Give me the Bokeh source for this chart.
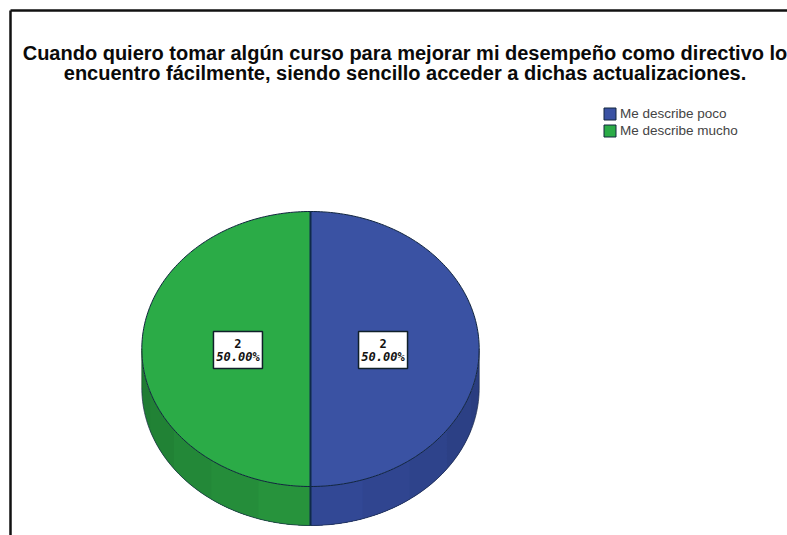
import numpy as np
from bokeh.embed import file_html
from bokeh.resources import INLINE
from bokeh.models import Range1d, Legend, LegendItem
from bokeh.plotting import figure
from bokeh.core.properties import value

title_lines = ["Cuando quiero tomar algún curso para mejorar mi desempeño como directivo lo",
               "encuentro fácilmente, siendo sencillo acceder a dichas actualizaciones."]
categories = ["Me describe poco", "Me describe mucho"]
counts = [2, 2]
percent_labels = ["50.00%", "50.00%"]

top_colors = ["#3A52A3", "#2BAB47"]
side_near = [(52, 74, 152), (40, 150, 62)]
side_far = [(41, 60, 126), (30, 122, 50)]

W, H = 787, 535
cx, cy, rx, ry, depth = 310, 348.5, 168.7, 137.5, 39

p = figure(width=W, height=H, output_backend="svg", toolbar_location=None,
           x_range=Range1d(0, W), y_range=Range1d(H, 0), min_border=0,
           outline_line_color=None, background_fill_color="white", border_fill_color="white",
           styles={"position": "absolute", "left": "0px", "top": "0px"})
p.axis.visible = False
p.grid.visible = False

# frame
p.line([10, 10], [H, 10], line_color="#111111", line_width=2.5)
p.line([10, W], [10, 10], line_color="#111111", line_width=2.5)

total = sum(counts)
edges = np.cumsum([0] + counts) / total * 2 * np.pi
top_renderers = []
for i in range(len(counts)):
    a0, a1 = edges[i], edges[i + 1]
    # side wall: only the front half of the disc is visible
    s0, s1 = max(a0, np.pi / 2), min(a1, 3 * np.pi / 2)
    if s1 > s0:
        nb = 5
        bands = np.linspace(s0, s1, nb + 1)
        # paint from the full wall inward so no seams show between the shades
        order = sorted(range(nb), key=lambda b: -abs((bands[b] + bands[b + 1]) / 2 - np.pi))
        for b in order:
            f = abs(((bands[b] + bands[b + 1]) / 2 - np.pi)) / (np.pi / 2)
            c = tuple(int(n + (m - n) * f) for n, m in zip(side_near[i], side_far[i]))
            col = "#%02x%02x%02x" % c
            if s0 >= np.pi:
                lo, hi = s0, bands[b + 1]
            else:
                lo, hi = bands[b], s1
            t = np.linspace(lo, hi, 60)
            xx = cx + rx * np.sin(t)
            yy = cy - ry * np.cos(t)
            p.patch(np.concatenate([xx, xx[::-1]]), np.concatenate([yy, yy[::-1] + depth]),
                    fill_color=col, line_color=None)
        t = np.linspace(s0, s1, 80)
        p.line(cx + rx * np.sin(t), cy - ry * np.cos(t) + depth, line_color="#1c2b4a", line_width=0.7)
    t = np.linspace(a0, a1, 160)
    xs = np.concatenate([[cx], cx + rx * np.sin(t)])
    ys = np.concatenate([[cy], cy - ry * np.cos(t)])
    top_renderers.append(p.patch(xs, ys, fill_color=top_colors[i], line_color="#12263f", line_width=1))

# divider down the front wall and side silhouettes
p.line([cx, cx], [cy - ry, cy + ry + depth], line_color="#0f2a4a", line_width=2)
p.line([cx - rx, cx - rx], [cy, cy + depth], line_color="#1c4a2a", line_width=0.7)
p.line([cx + rx, cx + rx], [cy, cy + depth], line_color="#1c2b4a", line_width=0.7)

# data labels
for i, (n, pct) in enumerate(zip(counts, percent_labels)):
    mid = (edges[i] + edges[i + 1]) / 2
    lx = cx + 0.43 * rx * np.sin(mid)
    ly = cy + 1
    p.rect([lx], [ly], width=49, height=37, fill_color="white",
           line_color="#10202a", line_width=1.5)
    p.text([lx], [ly - 7], text=[str(n)], text_align="center", text_baseline="middle",
           text_font=value("DejaVu Sans Mono"), text_font_style="bold",
           text_font_size="12px", text_color="#111111")
    p.text([lx], [ly + 7], text=[pct], text_align="center", text_baseline="middle",
           text_font=value("DejaVu Sans Mono"), text_font_style="bold italic",
           text_font_size="12px", text_color="#111111")

# title
for line, y in zip(title_lines, [52.5, 72.5]):
    p.text([404.5], [y], text=[line], text_align="center", text_baseline="alphabetic",
           text_font=value("Liberation Sans"), text_font_style="bold",
           text_font_size="20px", text_color="#0a0a0a")

legend = Legend(items=[LegendItem(label=c, renderers=[r]) for c, r in zip(categories, top_renderers)],
                location=(602, H - 138), background_fill_alpha=0, border_line_color=None,
                glyph_width=15, glyph_height=15, spacing=2, padding=6, margin=0, label_standoff=3,
                label_text_font="Liberation Sans", label_text_font_size="13.5px",
                label_text_color="#444444", label_height=15)
p.add_layout(legend, "center")

open("out.html", "w").write(file_html(p, INLINE))
